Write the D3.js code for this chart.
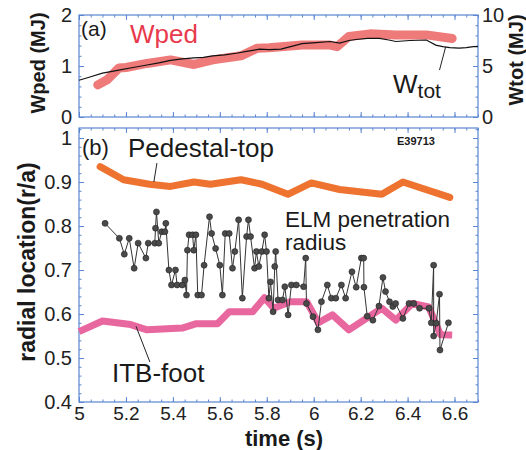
<!DOCTYPE html>
<html>
<head>
<meta charset="utf-8">
<script src="https://cdn.jsdelivr.net/npm/d3@7"></script>
<style>
  body { margin: 0; background: #fff; }
  svg { font-family: "Liberation Sans", Arial, sans-serif; }
  .tick text { fill: #222; }
</style>
</head>
<body>
<div id="chart"></div>
<script>
// panel (a): stored energy
const wpedT = [5.08, 5.12, 5.17, 5.20, 5.29, 5.39, 5.49, 5.57, 5.69, 5.76, 5.81, 5.95, 6.07, 6.10, 6.15, 6.24, 6.35, 6.48, 6.59];
const wpedV = [0.63, 0.73, 0.96, 0.97, 1.05, 1.12, 1.03, 1.12, 1.20, 1.35, 1.36, 1.41, 1.41, 1.38, 1.58, 1.63, 1.61, 1.61, 1.54];
const wtotT = [5.0, 5.05, 5.10, 5.17, 5.23, 5.29, 5.34, 5.39, 5.44, 5.49, 5.53, 5.57, 5.62, 5.67, 5.72, 5.77, 5.81, 5.86, 5.91, 5.95, 6.01, 6.07, 6.11, 6.15, 6.18, 6.23, 6.28, 6.32, 6.35, 6.41, 6.48, 6.52, 6.55, 6.58, 6.62, 6.65, 6.68, 6.7];
const wtotV = [3.6, 3.95, 4.3, 4.6, 4.85, 5.1, 5.3, 5.55, 5.7, 5.8, 5.85, 6.0, 6.1, 6.25, 6.45, 6.65, 6.6, 6.65, 6.95, 7.2, 7.3, 7.4, 7.25, 7.5, 7.6, 7.7, 7.7, 7.55, 7.4, 7.5, 7.55, 7.05, 6.9, 6.8, 6.75, 6.8, 6.9, 6.9];

// panel (b): radial locations
const pedT = [5.09, 5.19, 5.30, 5.39, 5.49, 5.56, 5.69, 5.78, 5.89, 5.99, 6.11, 6.29, 6.38, 6.58];
const pedV = [0.935, 0.905, 0.895, 0.89, 0.9, 0.895, 0.905, 0.895, 0.872, 0.898, 0.883, 0.872, 0.9, 0.865];
const itbT = [5.0, 5.10, 5.22, 5.29, 5.44, 5.50, 5.59, 5.64, 5.74, 5.79, 5.83, 5.90, 5.97, 6.02, 6.08, 6.15, 6.29, 6.35, 6.42, 6.49, 6.54, 6.59];
const itbV = [0.56, 0.584, 0.576, 0.564, 0.568, 0.578, 0.578, 0.605, 0.605, 0.637, 0.613, 0.628, 0.628, 0.58, 0.598, 0.564, 0.613, 0.586, 0.624, 0.616, 0.553, 0.552];
const elmT = [5.111, 5.172, 5.193, 5.214, 5.235, 5.252, 5.285, 5.295, 5.323, 5.326, 5.330, 5.340, 5.352, 5.366, 5.370, 5.383, 5.394, 5.411, 5.418, 5.440, 5.451, 5.458, 5.462, 5.469, 5.484, 5.489, 5.498, 5.506, 5.522, 5.533, 5.556, 5.565, 5.582, 5.600, 5.611, 5.623, 5.640, 5.654, 5.664, 5.680, 5.696, 5.714, 5.722, 5.731, 5.748, 5.756, 5.766, 5.779, 5.791, 5.799, 5.809, 5.816, 5.827, 5.834, 5.838, 5.848, 5.867, 5.877, 5.891, 5.905, 5.926, 5.957, 5.966, 5.969, 5.997, 6.018, 6.033, 6.058, 6.075, 6.094, 6.118, 6.136, 6.163, 6.181, 6.203, 6.213, 6.214, 6.228, 6.252, 6.278, 6.295, 6.306, 6.323, 6.337, 6.349, 6.380, 6.406, 6.426, 6.451, 6.491, 6.501, 6.511, 6.511, 6.522, 6.536, 6.538, 6.574];
const elmV = [0.806, 0.772, 0.736, 0.772, 0.704, 0.761, 0.727, 0.761, 0.761, 0.795, 0.832, 0.761, 0.787, 0.787, 0.806, 0.700, 0.666, 0.700, 0.666, 0.666, 0.677, 0.643, 0.745, 0.780, 0.780, 0.745, 0.780, 0.643, 0.643, 0.711, 0.821, 0.783, 0.749, 0.711, 0.643, 0.783, 0.783, 0.704, 0.742, 0.814, 0.636, 0.776, 0.814, 0.776, 0.704, 0.742, 0.708, 0.742, 0.780, 0.742, 0.636, 0.673, 0.605, 0.708, 0.742, 0.632, 0.632, 0.662, 0.598, 0.666, 0.666, 0.662, 0.727, 0.624, 0.594, 0.564, 0.628, 0.666, 0.636, 0.636, 0.666, 0.636, 0.696, 0.661, 0.727, 0.727, 0.661, 0.595, 0.586, 0.618, 0.683, 0.651, 0.628, 0.617, 0.624, 0.590, 0.624, 0.624, 0.613, 0.613, 0.580, 0.711, 0.550, 0.579, 0.645, 0.518, 0.580];

const timeTicks = [5, 5.2, 5.4, 5.6, 5.8, 6, 6.2, 6.4, 6.6];
const radTicks = [0.4, 0.5, 0.6, 0.7, 0.8, 0.9, 1];
const wpedTicks = [0, 1, 2];
const wtotTicks = [0, 5, 10];

const w = 526, h = 450;
const left = 79, right = 478;
const aTop = 15, aBot = 117, bTop = 128, bBot = 402;
const frameCol = "#5b86d2";

const x = d3.scaleLinear().domain([5, 6.7]).range([left, right]);
const yA = d3.scaleLinear().domain([0, 2]).range([aBot, aTop]);
const yT = d3.scaleLinear().domain([0, 10]).range([aBot, aTop]);
const yB = d3.scaleLinear().domain([0.4, 0.4 + (bBot - bTop) / 440]).range([bBot, bTop]);

const svg = d3.select("#chart").append("svg").attr("width", w).attr("height", h);

// inward ticks; major with labels, minor without
function ticks(axisFn, scale, major, minor, pos, labels, size, pad) {
  const g1 = svg.append("g").attr("transform", pos)
    .call(axisFn(scale).tickValues(minor).tickSize(-2.5).tickFormat(""));
  const g2 = svg.append("g").attr("transform", pos)
    .call(axisFn(scale).tickValues(major).tickSize(-5).tickPadding(pad || 7)
      .tickFormat(labels ? (d) => +d.toFixed(1) : ""));
  [g1, g2].forEach((g) => {
    g.select(".domain").remove();
    g.selectAll("line").attr("stroke", frameCol);
    g.selectAll("text").style("font-size", (size || 19) + "px");
  });
}
const minorT = d3.range(5, 6.701, 0.05);

// panel (a) axes
ticks(d3.axisBottom, x, timeTicks, minorT, `translate(0,${aBot})`, false);
ticks(d3.axisTop, x, timeTicks, minorT, `translate(0,${aTop})`, false);
ticks(d3.axisLeft, yA, wpedTicks, d3.range(0, 2.01, 0.2), `translate(${left},0)`, true, 20);
ticks(d3.axisRight, yT, wtotTicks, d3.range(0, 10.1, 1), `translate(${right},0)`, true, 20, 4);
svg.append("rect").attr("x", left).attr("y", aTop).attr("width", right - left).attr("height", aBot - aTop)
  .attr("fill", "none").attr("stroke", frameCol).attr("stroke-width", 1.2);

// panel (b) axes
ticks(d3.axisBottom, x, timeTicks, minorT, `translate(0,${bBot})`, true, 19, 5);
ticks(d3.axisTop, x, timeTicks, minorT, `translate(0,${bTop})`, false);
ticks(d3.axisLeft, yB, radTicks, d3.range(0.4, 1.021, 0.02), `translate(${left},0)`, true, 20);
ticks(d3.axisRight, yB, radTicks, d3.range(0.4, 1.021, 0.02), `translate(${right},0)`, false);
svg.append("rect").attr("x", left).attr("y", bTop).attr("width", right - left).attr("height", bBot - bTop)
  .attr("fill", "none").attr("stroke", frameCol).attr("stroke-width", 1.2);

// panel (a) lines
const wped = wpedT.map((t, i) => [t, wpedV[i]]);
svg.append("path").datum(wped)
  .attr("d", d3.line().x((d) => x(d[0])).y((d) => yA(d[1])))
  .attr("fill", "none").attr("stroke", "#ec6b6b").attr("stroke-width", 9)
  .attr("stroke-linecap", "round").attr("stroke-linejoin", "round").attr("opacity", 0.9);
const wtot = wtotT.map((t, i) => [t, wtotV[i]]);
svg.append("path").datum(wtot)
  .attr("d", d3.line().x((d) => x(d[0])).y((d) => yT(d[1])))
  .attr("fill", "none").attr("stroke", "#111").attr("stroke-width", 1.2);

// panel (b) lines
const ped = pedT.map((t, i) => [t, pedV[i]]);
svg.append("path").datum(ped)
  .attr("d", d3.line().x((d) => x(d[0])).y((d) => yB(d[1])))
  .attr("fill", "none").attr("stroke", "#ee7330").attr("stroke-width", 7)
  .attr("stroke-linecap", "round").attr("stroke-linejoin", "round");
const itb = itbT.map((t, i) => [t, itbV[i]]);
svg.append("path").datum(itb)
  .attr("d", d3.line().x((d) => x(d[0])).y((d) => yB(d[1])))
  .attr("fill", "none").attr("stroke", "#e8679f").attr("stroke-width", 7)
  .attr("stroke-linejoin", "round");
const elm = elmT.map((t, i) => [t, elmV[i]]);
svg.append("path").datum(elm)
  .attr("d", d3.line().x((d) => x(d[0])).y((d) => yB(d[1])))
  .attr("fill", "none").attr("stroke", "#333").attr("stroke-width", 1);
svg.selectAll(".dot").data(elm).enter().append("circle")
  .attr("class", "dot")
  .attr("cx", (d) => x(d[0])).attr("cy", (d) => yB(d[1])).attr("r", 3)
  .attr("fill", "#4a4a4a").attr("stroke", "#222").attr("stroke-width", 0.6);

// callouts
function callout(x1, y1, x2, y2) {
  svg.append("line").attr("x1", x1).attr("y1", y1).attr("x2", x2).attr("y2", y2)
    .attr("stroke", "#222").attr("stroke-width", 1);
}
callout(x(5.319), yB(0.9), x(5.332), yB(0.943));
callout(x(5.243), yB(0.572), x(5.302), yB(0.491));
callout(x(6.562), yT(6.86), x(6.536), yT(4.6));

// texts
function txt(tx, ty, s, size, opts) {
  const o = opts || {};
  return svg.append("text").attr("x", tx).attr("y", ty).text(s)
    .style("font-size", size + "px").attr("fill", o.fill || "#1a1a1a")
    .attr("font-weight", o.bold ? "bold" : null)
    .attr("text-anchor", o.anchor || "start");
}
txt(81, 36, "(a)", 21);
txt(130, 43, "Wped", 26, { fill: "#e83a4c" });
const wt = txt(393, 93, "W", 26);
wt.append("tspan").attr("dy", 5).style("font-size", "21px").text("tot");
txt(82, 155, "(b)", 22);
txt(128, 157, "Pedestal-top", 26);
txt(397, 145, "E39713", 11, { bold: true });
txt(285, 227, "ELM penetration", 22.5);
txt(285, 250, "radius", 22.5);
txt(112, 382, "ITB-foot", 26);
txt(284, 446, "time (s)", 22, { bold: true, anchor: "middle" });

svg.append("text").attr("transform", "translate(35,262)rotate(-90)")
  .attr("text-anchor", "middle").attr("font-weight", "bold").style("font-size", "23px")
  .attr("fill", "#1a1a1a").text("radial location(r/a)");
svg.append("text").attr("transform", "translate(45,63)rotate(-90)")
  .attr("text-anchor", "middle").attr("font-weight", "bold").style("font-size", "20px")
  .attr("fill", "#1a1a1a").text("Wped (MJ)");
svg.append("text").attr("transform", "translate(523,60)rotate(-90)")
  .attr("text-anchor", "middle").attr("font-weight", "bold").style("font-size", "20px")
  .attr("fill", "#1a1a1a").text("Wtot (MJ)");
</script>
</body>
</html>
